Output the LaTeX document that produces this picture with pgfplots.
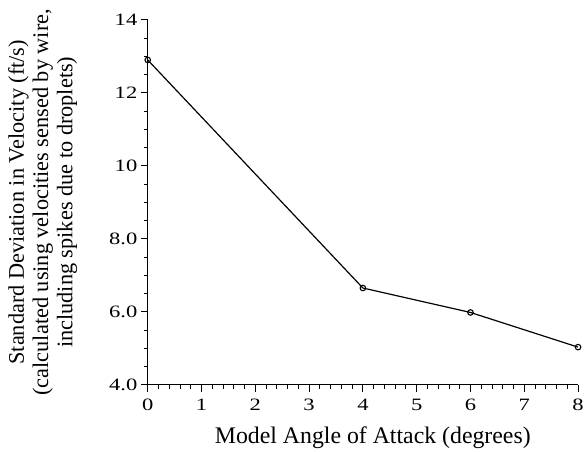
\documentclass[border=0pt]{standalone}
\usepackage{fontspec}
\setmainfont{Liberation Serif}
\newfontfamily\tickfont[FakeStretch=1.3]{Liberation Serif}
\usepackage{pgfplots}
\pgfplotsset{compat=1.18}
\usetikzlibrary{calc}
\begin{document}
\begin{tikzpicture}
\begin{axis}[
  name=ax,
  scale only axis,
  width=434pt, height=368pt,
  xmin=0, xmax=8, ymin=4, ymax=14,
  axis x line=bottom, axis y line=left,
  axis line style={-, line width=1.2pt},
  tick align=outside,
  xtick={0,1,...,8},
  ytick={4,6,8,10,12,14},
  yticklabels={4.0,6.0,8.0,10,12,14},
  minor x tick num=4,
  minor y tick num=3,
  major tick length=7pt,
  minor tick length=4pt,
  tick style={line width=0.9pt, black},
  /pgf/number format/assume math mode=true,
  every tick label/.append style={font=\tickfont\fontsize{17.5}{20}\selectfont},
  xticklabel style={yshift=-4pt},
  xlabel={Model Angle of Attack (degrees)},
  xlabel style={font=\fontsize{24}{26}\selectfont, at={(axis description cs:0.523,-0.160)}, anchor=base},
  ylabel={Standard Deviation in Velocity (ft/s)\\(calculated using velocities sensed by wire,\\including spikes due to droplets)},
  ylabel style={font=\fontsize{22.5}{24.5}\selectfont, align=center, at={(axis description cs:-0.244,0.5)}, anchor=center},
  clip=false,
]
\addplot[black, line width=1.2pt, mark=o, mark size=2.8pt, mark options={line width=1.1pt}] coordinates {
(0,12.9) (4,6.65) (6,5.98) (8,5.03)
};
\end{axis}
\path ($(ax.south west)+(-149pt,-65pt)$) rectangle ($(ax.north east)+(4pt,20pt)$);
\end{tikzpicture}
\end{document}
